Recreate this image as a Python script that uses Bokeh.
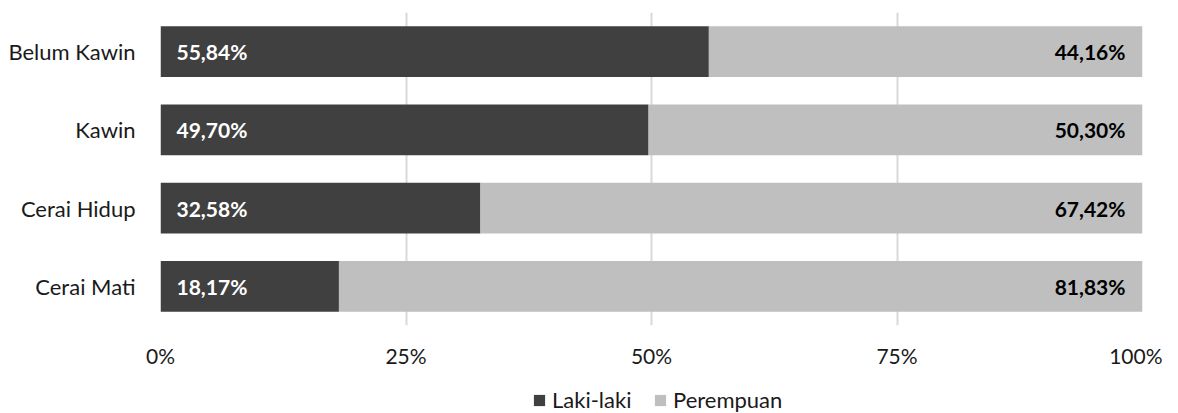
from bokeh.plotting import figure
from bokeh.layouts import column
from bokeh.models import ColumnDataSource, Legend, LegendItem, FixedTicker, CustomJSTickFormatter, Range1d
from bokeh.core.properties import value
from bokeh.embed import file_html
from bokeh.resources import INLINE

categories = ["Belum Kawin", "Kawin", "Cerai Hidup", "Cerai Mati"]
laki = [55.84, 49.70, 32.58, 18.17]
perempuan = [44.16, 50.30, 67.42, 81.83]
x_ticks = [0, 25, 50, 75, 100]
series_names = ["Laki-laki", "Perempuan"]

FONT = "Lato"
DARK = "#404040"
LIGHT = "#bfbfbf"
TXT = "#1a1a1a"

def fmt(v):
    return ("%.2f%%" % v).replace(".", ",")

src = ColumnDataSource(dict(
    cat=categories,
    laki=laki,
    per=perempuan,
    zero=[0] * len(categories),
    total=[a + b for a, b in zip(laki, perempuan)],
    lab_l=[fmt(v) for v in laki],
    lab_p=[fmt(v) for v in perempuan],
))

p = figure(width=1162, height=370, y_range=list(reversed(categories)),
           x_range=Range1d(0, 100), output_backend="svg", toolbar_location=None,
           min_border_left=160, min_border_right=20, min_border_top=12, min_border_bottom=45)
p.outline_line_color = None
p.background_fill_color = "white"

p.hbar(y="cat", left="zero", right="laki", height=0.65, source=src,
       fill_color=DARK, line_color=None)
p.hbar(y="cat", left="laki", right="total", height=0.65, source=src,
       fill_color=LIGHT, line_color=None)

p.text(x="zero", y="cat", text="lab_l", source=src, x_offset=16,
       text_align="left", text_baseline="middle", text_color="white",
       text_font=value(FONT), text_font_style="bold", text_font_size="21px")
p.text(x="total", y="cat", text="lab_p", source=src, x_offset=-17,
       text_align="right", text_baseline="middle", text_color="black",
       text_font=value(FONT), text_font_style="bold", text_font_size="21px")

p.xaxis.ticker = FixedTicker(ticks=x_ticks)
p.xaxis.formatter = CustomJSTickFormatter(code="return tick + '%';")
p.xaxis.axis_line_color = None
p.xaxis.major_tick_line_color = None
p.xaxis.minor_tick_line_color = None
p.xaxis.major_label_text_font = FONT
p.xaxis.major_label_text_font_size = "21px"
p.xaxis.major_label_text_color = TXT
p.xaxis.major_label_standoff = 11

p.yaxis.axis_line_color = None
p.yaxis.major_tick_line_color = None
p.yaxis.major_label_text_font = FONT
p.yaxis.major_label_text_font_size = "22px"
p.yaxis.major_label_text_color = TXT
p.yaxis.major_label_standoff = 19

p.ygrid.grid_line_color = None
p.xgrid.grid_line_color = "#d9d9d9"
p.xgrid.grid_line_width = 2

# legend strip
lg = figure(width=1162, height=43, x_range=Range1d(0, 1), y_range=Range1d(0, 1),
            output_backend="svg", toolbar_location=None,
            min_border_left=160, min_border_right=20, min_border_top=0, min_border_bottom=0)
lg.axis.visible = False
lg.grid.visible = False
lg.outline_line_color = None
g1 = lg.hbar(y=[0], left=[0], right=[0], height=0.5, fill_color=DARK, line_color=None)
g2 = lg.hbar(y=[0], left=[0], right=[0], height=0.5, fill_color=LIGHT, line_color=None)
common = dict(orientation="horizontal", label_text_font=FONT, label_text_font_size="22px",
              label_text_color=TXT, glyph_width=14, glyph_height=14,
              label_standoff=6, border_line_color=None,
              background_fill_alpha=0, padding=0, margin=0)
leg1 = Legend(items=[LegendItem(label=series_names[0], renderers=[g1])],
              location=(372, 0), **common)
leg2 = Legend(items=[LegendItem(label=series_names[1], renderers=[g2])],
              location=(493, 0), **common)
lg.add_layout(leg1, "center")
lg.add_layout(leg2, "center")

layout = column(p, lg, spacing=0)
open("out.html", "w").write(file_html(layout, INLINE))
